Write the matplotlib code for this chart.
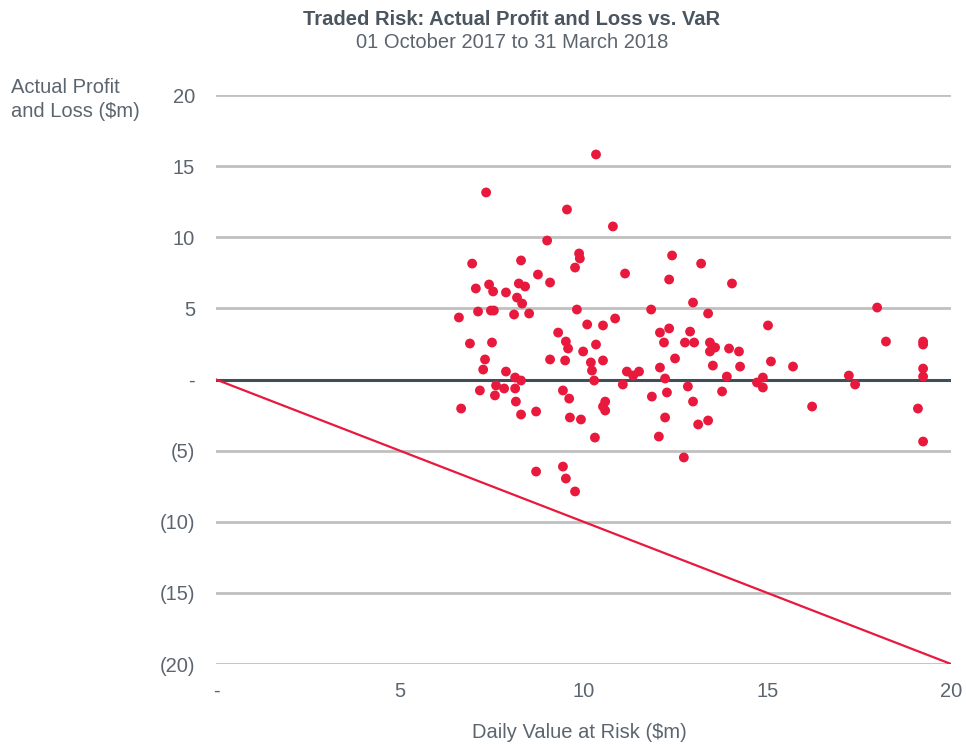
import numpy as np
import matplotlib
matplotlib.use("Agg")
import matplotlib.pyplot as plt

plt.rcParams['font.family'] = ['Liberation Sans', 'DejaVu Sans']

# daily VaR ($m) and actual P&L ($m)
var_vals = [10.34, 7.35, 9.55, 10.80, 9.01, 9.88, 9.90, 12.41, 6.97, 8.30,
            13.20, 9.77, 8.76, 11.13, 12.33, 14.04, 7.07, 7.43, 8.24, 8.41,
            9.09, 7.54, 7.89, 8.19, 8.33, 8.11, 8.52, 7.13, 7.48, 7.56,
            6.61, 9.82, 11.84, 12.98, 13.39, 17.99, 10.86, 10.53, 9.31, 10.10,
            12.08, 12.33, 15.02, 9.52, 9.58, 6.91, 7.51, 10.34, 12.76, 12.90,
            13.01, 12.19, 13.44, 13.44, 13.58, 13.96, 14.23, 18.23, 19.24, 19.24,
            7.32, 9.09, 9.50, 9.99, 10.20, 10.53, 12.49, 15.10, 15.70, 7.27,
            7.89, 10.23, 11.18, 11.35, 11.51, 12.08, 13.52, 14.26, 17.22, 19.24,
            19.24, 8.14, 8.30, 10.29, 12.22, 13.90, 14.88, 14.72, 14.88, 17.39,
            11.07, 7.62, 7.84, 8.14, 7.18, 7.59, 9.44, 9.61, 12.27, 12.84,
            12.98, 13.77, 10.59, 10.53, 10.59, 11.86, 6.67, 8.16, 8.30, 8.71,
            9.63, 9.93, 12.22, 13.12, 13.39, 16.22, 19.10, 10.31, 12.05, 19.24,
            12.73, 8.71, 9.44, 9.52, 9.77]
pnl_vals = [15.82, 13.15, 11.95, 10.76, 9.77, 8.86, 8.51, 8.72, 8.15, 8.37,
            8.15, 7.87, 7.38, 7.45, 7.03, 6.75, 6.40, 6.68, 6.75, 6.54,
            6.82, 6.19, 6.12, 5.76, 5.34, 4.57, 4.64, 4.78, 4.85, 4.85,
            4.36, 4.92, 4.92, 5.41, 4.64, 5.06, 4.29, 3.80, 3.30, 3.87,
            3.30, 3.59, 3.80, 2.67, 2.18, 2.53, 2.60, 2.46, 2.60, 3.37,
            2.60, 2.60, 2.60, 1.97, 2.25, 2.18, 1.97, 2.67, 2.67, 2.46,
            1.41, 1.41, 1.34, 1.97, 1.20, 1.34, 1.48, 1.27, 0.91, 0.70,
            0.56, 0.63, 0.56, 0.28, 0.56, 0.84, 0.98, 0.91, 0.28, 0.77,
            0.21, 0.14, -0.07, -0.07, 0.07, 0.21, 0.14, -0.21, -0.56, -0.35,
            -0.35, -0.42, -0.63, -0.63, -0.77, -1.12, -0.77, -1.34, -0.91, -0.49,
            -1.55, -0.84, -1.55, -1.90, -2.18, -1.20, -2.04, -1.55, -2.46, -2.25,
            -2.67, -2.81, -2.67, -3.16, -2.88, -1.90, -2.04, -4.08, -4.01, -4.36,
            -5.48, -6.47, -6.12, -6.96, -7.87]

x_ticks = [0, 5, 10, 15, 20]
x_labels = ['-', '5', '10', '15', '20']
y_ticks = [20, 15, 10, 5, 0, -5, -10, -15, -20]
y_labels = ['20', '15', '10', '5', '-', '(5)', '(10)', '(15)', '(20)']

red = '#e8193c'
txt = '#5b6570'

fig = plt.figure(figsize=(9.66, 7.44), dpi=100)
ax = fig.add_axes([0.2236, 0.1075, 0.7609, 0.7648])

for yv in y_ticks:
    if yv != 0:
        ax.axhline(yv, color='#c0c0c0', lw=2.0, zorder=1)
ax.axhline(0, color='#414e59', lw=2.2, zorder=2)

# VaR boundary line (loss = -VaR)
ax.plot([0, 20], [0, -20], color=red, lw=1.6, zorder=3)

ax.scatter(var_vals, pnl_vals, s=50, color=red, edgecolors='none', zorder=4)

ax.set_xlim(0, 20)
ax.set_ylim(-20, 20)
ax.set_xticks(x_ticks)
ax.set_xticklabels(x_labels)
ax.set_yticks(y_ticks)
ax.set_yticklabels(y_labels)
ax.tick_params(length=0, labelsize=14.5, colors=txt)
ax.tick_params(axis='y', pad=15)
ax.tick_params(axis='x', pad=13)
for sp in ax.spines.values():
    sp.set_visible(False)

fig.text(0.0115, 0.895, 'Actual Profit\nand Loss ($m)', fontsize=14.5, color=txt,
         va='top', ha='left', linespacing=1.35)
fig.text(0.6, 0.0148, 'Daily Value at Risk ($m)', fontsize=14.5, color=txt,
         ha='center', va='center')
fig.text(0.53, 0.974, 'Traded Risk: Actual Profit and Loss vs. VaR', fontsize=14.5,
         fontweight='bold', color='#4a5560', ha='center', va='center')
fig.text(0.53, 0.943, '01 October 2017 to 31 March 2018', fontsize=14.5,
         color=txt, ha='center', va='center')

fig.savefig('out.png', dpi=100)
